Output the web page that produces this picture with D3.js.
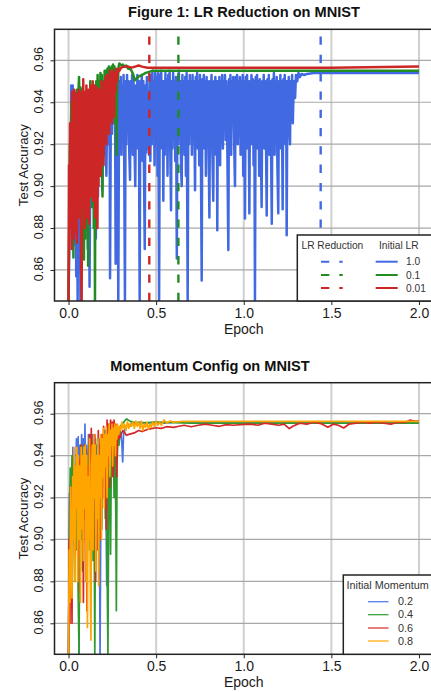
<!DOCTYPE html>
<html><head><meta charset="utf-8">
<script src="https://cdn.jsdelivr.net/npm/d3@7"></script>
<style>body{margin:0;background:#fff}svg{display:block;font-family:"Liberation Sans",Arial,sans-serif}</style>
</head><body><svg id="c" width="431" height="692"></svg>
<script>
// ---------- DATA ----------
const xTicks = [0, 0.5, 1.0, 1.5, 2.0];
const xTickLabels = ["0.0", "0.5", "1.0", "1.5", "2.0"];
const yTicks = [0.86, 0.88, 0.90, 0.92, 0.94, 0.96];
const yTickLabels = ["0.86", "0.88", "0.90", "0.92", "0.94", "0.96"];

const lrLabels = ["1.0", "0.1", "0.01"];
const lrReductionEpoch = [1.439, 0.627, 0.461];

const lr1_0 = [[0.000,0.845],[0.004,0.870],[0.008,0.905],[0.012,0.880],[0.016,0.948],[0.020,0.935],[0.024,0.948],[0.028,0.900],[0.032,0.945],[0.036,0.872],[0.040,0.930],[0.044,0.857],[0.048,0.925],[0.052,0.845],[0.056,0.940],[0.060,0.860],[0.064,0.935],[0.068,0.845],[0.072,0.942],[0.076,0.895],[0.080,0.945],[0.086,0.905],[0.092,0.940],[0.098,0.880],[0.104,0.935],[0.110,0.870],[0.116,0.930],[0.120,0.852],[0.126,0.938],[0.132,0.890],[0.138,0.944],[0.144,0.900],[0.150,0.945],[0.156,0.875],[0.162,0.940],[0.168,0.895],[0.174,0.945],[0.180,0.905],[0.186,0.946],[0.192,0.898],[0.198,0.947],[0.204,0.915],[0.210,0.948],[0.216,0.905],[0.222,0.950],[0.228,0.920],[0.234,0.950],[0.237,0.856],[0.242,0.945],[0.248,0.925],[0.254,0.952],[0.260,0.930],[0.265,0.950],[0.269,0.863],[0.274,0.948],[0.280,0.935],[0.284,0.845],[0.289,0.950],
[0.294,0.930],[0.298,0.952],[0.302,0.915],[0.306,0.948],[0.310,0.925],[0.314,0.953],[0.318,0.910],[0.322,0.845],[0.326,0.950],[0.330,0.920],[0.334,0.953],[0.338,0.928],[0.342,0.950],[0.346,0.918],[0.351,0.903],[0.355,0.950],[0.359,0.920],[0.363,0.953],[0.367,0.915],[0.371,0.951],[0.375,0.925],[0.381,0.900],[0.385,0.948],[0.389,0.918],[0.393,0.953],[0.397,0.922],[0.401,0.950],[0.406,0.845],[0.410,0.950],[0.414,0.918],[0.418,0.953],[0.423,0.912],[0.427,0.950],[0.431,0.905],[0.435,0.870],[0.439,0.948],[0.443,0.916],[0.447,0.952],[0.451,0.918],[0.455,0.945],[0.459,0.915],[0.463,0.950],[0.467,0.912],[0.471,0.953],[0.475,0.920],[0.479,0.955],[0.483,0.925],[0.487,0.950],[0.491,0.910],[0.495,0.954],[0.500,0.920],[0.504,0.952],[0.508,0.905],[0.512,0.954],[0.517,0.845],[0.521,0.953],[0.525,0.918],[0.529,0.955],[0.533,0.922],[0.537,0.950],[0.541,0.893],[0.545,0.950],[0.549,0.915],[0.553,0.954],[0.557,0.920],[0.561,0.951],[0.565,0.905],[0.569,0.953],[0.573,0.925],[0.577,0.955],[0.581,0.915],[0.585,0.8885],[0.589,0.950],[0.593,0.918],[0.597,0.954],[0.601,0.925],[0.605,0.950],[0.609,0.912],[0.613,0.952],[0.618,0.8655],[0.622,0.952],[0.626,0.920],[0.630,0.955],[0.634,0.925],[0.638,0.950],[0.642,0.910],[0.646,0.900],[0.650,0.953],[0.654,0.922],[0.658,0.950],[0.662,0.915],[0.666,0.952],[0.670,0.905],[0.674,0.954],[0.680,0.845],[0.684,0.950],[0.688,0.920],[0.692,0.953],[0.696,0.925],[0.700,0.950],[0.704,0.915],[0.708,0.953],[0.712,0.922],[0.716,0.950],[0.722,0.898],[0.726,0.952],[0.730,0.925],[0.734,0.954],[0.738,0.918],[0.742,0.950],[0.746,0.910],[0.750,0.953],[0.755,0.922],[0.760,0.855],[0.764,0.951],[0.768,0.925],[0.772,0.953],[0.776,0.918],[0.780,0.950],[0.784,0.905],[0.788,0.952],[0.792,0.928],[0.796,0.950],[0.800,0.915],[0.804,0.885],[0.808,0.950],[0.812,0.925],[0.816,0.953],[0.820,0.920],[0.826,0.893],[0.830,0.950],[0.834,0.928],[0.838,0.952],[0.842,0.915],[0.846,0.950],[0.849,0.879],[0.853,0.950],[0.857,0.928],[0.861,0.952],[0.865,0.910],[0.869,0.950],[0.873,0.930],[0.877,0.953],[0.881,0.918],[0.885,0.950],[0.889,0.932],[0.893,0.953],[0.897,0.922],[0.901,0.950],[0.905,0.930],[0.912,0.8695],[0.916,0.951],[0.920,0.928],[0.924,0.953],[0.928,0.915],[0.932,0.950],[0.936,0.932],[0.940,0.952],[0.946,0.918],[0.950,0.900],[0.954,0.952],[0.958,0.930],[0.962,0.953],[0.966,0.920],[0.970,0.950],[0.974,0.932],[0.978,0.952],[0.982,0.915],[0.986,0.950],[0.990,0.930],[0.994,0.953],[0.997,0.905],[1.002,0.950],[1.007,0.8846],[1.011,0.952],[1.015,0.928],[1.019,0.953],[1.023,0.918],[1.027,0.950],[1.032,0.887],[1.036,0.950],[1.040,0.930],[1.044,0.953],[1.048,0.920],[1.052,0.951],[1.056,0.910],[1.060,0.950],[1.064,0.845],[1.068,0.952],[1.072,0.928],[1.076,0.953],[1.080,0.918],[1.084,0.950],[1.088,0.905],[1.092,0.951],[1.096,0.930],[1.102,0.890],[1.106,0.950],[1.110,0.928],[1.114,0.953],[1.118,0.918],[1.122,0.950],[1.126,0.930],[1.131,0.886],[1.135,0.951],[1.139,0.928],[1.143,0.953],[1.147,0.915],[1.151,0.950],[1.155,0.925],[1.160,0.882],[1.164,0.951],[1.168,0.930],[1.172,0.954],[1.176,0.915],[1.180,0.950],[1.184,0.925],[1.188,0.952],[1.192,0.910],[1.197,0.887],[1.201,0.950],[1.205,0.930],[1.209,0.953],[1.213,0.918],[1.217,0.950],[1.222,0.889],[1.226,0.951],[1.230,0.932],[1.234,0.953],[1.238,0.920],[1.242,0.950],[1.245,0.8766],[1.249,0.950],[1.253,0.935],[1.257,0.952],[1.261,0.925],[1.264,0.920],[1.268,0.950],[1.272,0.938],[1.276,0.953],[1.280,0.930],[1.284,0.945],[1.288,0.950],[1.293,0.942],[1.298,0.953],[1.305,0.950],[1.312,0.954],[1.320,0.952],[1.330,0.9535],[1.345,0.953],[1.360,0.9535],[1.400,0.954],[1.500,0.954],[1.700,0.954],[1.900,0.954],[2.000,0.954]];

const lr0_1 = [[0.000,0.845],[0.004,0.880],[0.008,0.920],[0.012,0.900],[0.016,0.940],[0.020,0.905],[0.024,0.945],[0.028,0.866],[0.032,0.945],[0.036,0.925],[0.040,0.944],[0.044,0.900],[0.048,0.946],[0.052,0.915],[0.056,0.944],[0.060,0.952],[0.064,0.930],[0.068,0.947],[0.072,0.905],[0.076,0.946],[0.080,0.890],[0.084,0.944],[0.088,0.865],[0.092,0.935],[0.096,0.875],[0.100,0.945],[0.104,0.900],[0.108,0.940],[0.112,0.862],[0.116,0.945],[0.120,0.900],[0.124,0.950],[0.128,0.915],[0.132,0.946],[0.136,0.890],[0.140,0.948],[0.144,0.880],[0.148,0.930],[0.151,0.845],[0.154,0.935],[0.158,0.950],[0.162,0.920],[0.166,0.953],[0.170,0.935],[0.174,0.950],[0.178,0.910],[0.182,0.954],[0.186,0.930],[0.190,0.953],[0.194,0.895],[0.198,0.950],[0.202,0.935],[0.206,0.955],[0.210,0.940],[0.214,0.955],[0.218,0.925],[0.222,0.956],[0.226,0.945],[0.230,0.957],[0.234,0.940],[0.238,0.956],[0.242,0.950],[0.246,0.957],[0.250,0.945],[0.254,0.958],[0.258,0.950],[0.262,0.957],[0.266,0.930],[0.270,0.955],[0.274,0.915],[0.278,0.953],[0.282,0.950],[0.286,0.957],[0.290,0.9585],[0.296,0.958],[0.302,0.9575],[0.310,0.958],[0.320,0.957],[0.330,0.9575],[0.340,0.956],[0.350,0.956],[0.360,0.955],[0.370,0.953],[0.378,0.9505],[0.385,0.951],[0.395,0.952],[0.405,0.9525],[0.420,0.953],[0.440,0.954],[0.460,0.9545],[0.480,0.955],[0.550,0.955],[0.700,0.955],[1.000,0.955],[1.500,0.955],[2.000,0.955]];

const lr0_01 = [[0.000,0.845],[0.003,0.910],[0.006,0.880],[0.009,0.930],[0.012,0.892],[0.015,0.929],[0.018,0.870],[0.021,0.945],[0.024,0.885],[0.027,0.940],[0.030,0.875],[0.033,0.946],[0.036,0.890],[0.039,0.938],[0.042,0.878],[0.045,0.944],[0.048,0.873],[0.051,0.942],[0.054,0.895],[0.057,0.946],[0.060,0.885],[0.063,0.940],[0.066,0.900],[0.069,0.945],[0.072,0.860],[0.075,0.845],[0.078,0.935],[0.081,0.890],[0.084,0.951],[0.087,0.895],[0.090,0.945],[0.093,0.880],[0.096,0.942],[0.099,0.900],[0.102,0.948],[0.105,0.885],[0.108,0.940],[0.111,0.905],[0.114,0.946],[0.117,0.882],[0.120,0.944],[0.123,0.910],[0.126,0.948],[0.129,0.895],[0.132,0.940],[0.135,0.920],[0.138,0.950],[0.141,0.893],[0.144,0.945],[0.147,0.912],[0.150,0.948],[0.153,0.885],[0.156,0.944],[0.159,0.905],[0.162,0.947],[0.165,0.880],[0.168,0.942],[0.171,0.900],[0.174,0.946],[0.177,0.915],[0.180,0.945],[0.184,0.905],[0.188,0.950],[0.192,0.925],[0.196,0.945],[0.200,0.910],[0.204,0.950],[0.208,0.930],[0.212,0.952],[0.216,0.920],[0.220,0.953],[0.224,0.935],[0.228,0.950],[0.232,0.925],[0.236,0.955],[0.240,0.938],[0.244,0.953],[0.248,0.930],[0.252,0.955],[0.256,0.940],[0.260,0.933],[0.264,0.954],[0.268,0.945],[0.272,0.956],[0.276,0.950],[0.280,0.954],[0.285,0.956],[0.290,0.955],[0.300,0.9565],[0.320,0.957],[0.340,0.957],[0.360,0.9565],[0.380,0.957],[0.400,0.9575],[0.420,0.957],[0.450,0.9565],[0.600,0.9565],[1.000,0.9565],[1.500,0.9565],[1.800,0.9568],[2.000,0.957]];

const momLabels = ["0.2", "0.4", "0.6", "0.8"];

const mom0_2 = [[0.000,0.845],[0.005,0.922],[0.010,0.900],[0.015,0.930],[0.020,0.890],[0.025,0.944],[0.030,0.905],[0.035,0.935],[0.040,0.915],[0.045,0.948],[0.050,0.900],[0.055,0.949],[0.060,0.845],[0.065,0.945],[0.070,0.920],[0.075,0.950],[0.080,0.905],[0.085,0.948],[0.090,0.930],[0.094,0.955],[0.098,0.915],[0.102,0.945],[0.108,0.900],[0.114,0.950],[0.120,0.925],[0.126,0.947],[0.132,0.905],[0.138,0.950],[0.144,0.915],[0.150,0.948],[0.156,0.890],[0.162,0.945],[0.168,0.920],[0.174,0.948],[0.180,0.845],[0.186,0.940],[0.192,0.925],[0.198,0.950],[0.204,0.930],[0.210,0.952],[0.218,0.878],[0.224,0.945],[0.230,0.935],[0.236,0.953],[0.242,0.940],[0.248,0.954],[0.254,0.945],[0.260,0.952],[0.266,0.942],[0.272,0.954],[0.280,0.948],[0.290,0.953],[0.300,0.950],[0.305,0.945],[0.309,0.937],[0.314,0.950],[0.320,0.952],[0.330,0.954],[0.340,0.955],[0.350,0.954],[0.360,0.9555],[0.380,0.955],[0.400,0.956],[0.450,0.9555],[0.500,0.956],[0.550,0.9555],[0.600,0.956],[0.700,0.956],[1.000,0.956],[1.500,0.956],[2.000,0.956]];

const mom0_4 = [[0.000,0.845],[0.005,0.905],[0.010,0.934],[0.015,0.920],[0.020,0.940],[0.025,0.900],[0.030,0.938],[0.035,0.880],[0.040,0.935],[0.045,0.895],[0.050,0.930],[0.055,0.875],[0.060,0.845],[0.065,0.930],[0.070,0.900],[0.075,0.945],[0.080,0.885],[0.085,0.940],[0.090,0.910],[0.095,0.945],[0.100,0.880],[0.105,0.938],[0.110,0.905],[0.115,0.945],[0.120,0.895],[0.125,0.942],[0.130,0.915],[0.135,0.946],[0.140,0.890],[0.145,0.930],[0.150,0.845],[0.155,0.935],[0.160,0.910],[0.165,0.948],[0.170,0.900],[0.175,0.945],[0.180,0.920],[0.185,0.950],[0.190,0.905],[0.195,0.948],[0.200,0.925],[0.205,0.952],[0.210,0.910],[0.215,0.950],[0.220,0.888],[0.225,0.845],[0.230,0.930],[0.235,0.950],[0.240,0.893],[0.245,0.945],[0.250,0.930],[0.255,0.953],[0.260,0.920],[0.265,0.948],[0.270,0.910],[0.273,0.866],[0.277,0.935],[0.282,0.952],[0.288,0.945],[0.295,0.954],[0.305,0.955],[0.315,0.956],[0.325,0.957],[0.332,0.9575],[0.340,0.957],[0.350,0.9565],[0.370,0.956],[0.400,0.9555],[0.500,0.956],[0.700,0.9555],[1.000,0.9555],[1.500,0.9555],[2.000,0.9555]];

const mom0_6 = [[0.000,0.845],[0.004,0.900],[0.008,0.860],[0.012,0.925],[0.016,0.895],[0.020,0.860],[0.024,0.930],[0.028,0.910],[0.032,0.940],[0.036,0.892],[0.040,0.935],[0.045,0.915],[0.050,0.940],[0.055,0.892],[0.060,0.938],[0.065,0.875],[0.070,0.945],[0.075,0.905],[0.080,0.940],[0.085,0.870],[0.090,0.945],[0.095,0.910],[0.100,0.943],[0.105,0.866],[0.110,0.935],[0.115,0.900],[0.120,0.950],[0.125,0.920],[0.130,0.953],[0.135,0.900],[0.140,0.945],[0.145,0.925],[0.150,0.950],[0.155,0.880],[0.160,0.940],[0.165,0.895],[0.170,0.952],[0.175,0.915],[0.180,0.945],[0.185,0.900],[0.190,0.950],[0.195,0.920],[0.200,0.954],[0.205,0.935],[0.210,0.950],[0.215,0.905],[0.220,0.957],[0.225,0.935],[0.230,0.955],[0.235,0.925],[0.240,0.957],[0.245,0.940],[0.250,0.956],[0.255,0.930],[0.260,0.957],[0.265,0.945],[0.270,0.955],[0.275,0.930],[0.280,0.952],[0.290,0.948],[0.300,0.950],[0.310,0.952],[0.320,0.951],[0.330,0.9497],[0.340,0.950],[0.360,0.9505],[0.380,0.951],[0.400,0.952],[0.420,0.9515],[0.450,0.9525],[0.480,0.953],[0.500,0.9533],[0.530,0.953],[0.560,0.9538],[0.600,0.9535],[0.630,0.954],[0.660,0.9545],[0.700,0.9538],[0.740,0.9545],[0.780,0.955],[0.820,0.9545],[0.860,0.954],[0.900,0.9548],[0.940,0.9545],[1.000,0.9549],[1.040,0.955],[1.080,0.9545],[1.120,0.9555],[1.160,0.955],[1.200,0.9545],[1.230,0.955],[1.260,0.9529],[1.280,0.954],[1.320,0.9555],[1.360,0.955],[1.400,0.956],[1.440,0.9553],[1.480,0.9535],[1.510,0.955],[1.540,0.9545],[1.570,0.9532],[1.600,0.955],[1.640,0.9555],[1.680,0.956],[1.720,0.9555],[1.760,0.956],[1.800,0.9555],[1.840,0.955],[1.880,0.956],[1.920,0.9558],[1.950,0.957],[1.970,0.9565],[2.000,0.9565]];

const mom0_8 = [[0.000,0.845],[0.004,0.895],[0.008,0.870],[0.012,0.925],[0.016,0.885],[0.020,0.872],[0.024,0.930],[0.028,0.900],[0.032,0.944],[0.036,0.880],[0.040,0.935],[0.044,0.915],[0.048,0.944],[0.052,0.880],[0.056,0.940],[0.060,0.900],[0.064,0.935],[0.068,0.870],[0.072,0.944],[0.076,0.905],[0.080,0.940],[0.084,0.890],[0.088,0.944],[0.092,0.915],[0.096,0.945],[0.100,0.880],[0.104,0.940],[0.108,0.858],[0.112,0.930],[0.116,0.900],[0.120,0.948],[0.124,0.880],[0.128,0.852],[0.132,0.935],[0.136,0.945],[0.140,0.895],[0.144,0.950],[0.148,0.920],[0.152,0.945],[0.156,0.885],[0.160,0.940],[0.164,0.910],[0.168,0.948],[0.172,0.878],[0.176,0.940],[0.180,0.920],[0.184,0.950],[0.188,0.900],[0.192,0.948],[0.196,0.930],[0.200,0.953],[0.204,0.915],[0.208,0.950],[0.212,0.935],[0.216,0.954],[0.220,0.920],[0.224,0.950],[0.228,0.940],[0.232,0.955],[0.236,0.930],[0.240,0.952],[0.244,0.945],[0.248,0.955],[0.252,0.935],[0.256,0.953],[0.260,0.945],[0.264,0.955],[0.268,0.940],[0.272,0.954],[0.276,0.948],[0.280,0.955],[0.286,0.950],[0.292,0.954],[0.298,0.952],[0.305,0.956],[0.312,0.953],[0.320,0.955],[0.328,0.952],[0.336,0.956],[0.344,0.953],[0.352,0.9555],[0.360,0.954],[0.368,0.956],[0.376,0.953],[0.384,0.9565],[0.392,0.954],[0.400,0.956],[0.408,0.953],[0.416,0.9565],[0.424,0.952],[0.432,0.955],[0.440,0.9535],[0.448,0.956],[0.456,0.9525],[0.464,0.955],[0.472,0.9535],[0.480,0.956],[0.490,0.954],[0.500,0.9565],[0.510,0.9545],[0.520,0.956],[0.530,0.9545],[0.545,0.957],[0.560,0.9555],[0.580,0.9565],[0.600,0.956],[0.650,0.9563],[0.800,0.9563],[1.200,0.9563],[1.600,0.9563],[2.000,0.9563]];

// ---------- DRAW ----------
const svg = d3.select("#c");
const TXT = "#1a1a1a";
const xDomain = [-0.08, 2.08], yDomain = [0.8452, 0.9748];
const left = 54.5, right = 433;

function panel(cfg) {
  const x = d3.scaleLinear().domain(xDomain).range([left, right]);
  const y = d3.scaleLinear().domain(yDomain).range([cfg.bottom, cfg.top]);
  const g = svg.append("g");
  const cid = "clip" + cfg.id;
  svg.append("defs").append("clipPath").attr("id", cid)
    .append("rect").attr("x", left).attr("y", cfg.top).attr("width", right - left).attr("height", cfg.bottom - cfg.top);

  g.append("g").selectAll("line").data(xTicks).join("line")
    .attr("x1", d => x(d)).attr("x2", d => x(d)).attr("y1", cfg.top).attr("y2", cfg.bottom)
    .attr("stroke", "#d0d0d0").attr("stroke-width", 2);
  g.append("g").selectAll("line").data(yTicks).join("line")
    .attr("x1", left).attr("x2", right).attr("y1", d => y(d)).attr("y2", d => y(d))
    .attr("stroke", "#a8a8a8").attr("stroke-width", 1.2);

  const plot = g.append("g").attr("clip-path", `url(#${cid})`);
  const line = d3.line().x(d => x(d[0])).y(d => y(d[1]));
  cfg.series.forEach(s => {
    plot.append("path").datum(s.data).attr("d", line).attr("fill", "none")
      .attr("stroke", s.color).attr("stroke-width", cfg.lw).attr("stroke-linejoin", "round");
  });
  if (cfg.vlines) {
    cfg.vlines.forEach(v => {
      plot.append("line").attr("x1", x(v.x)).attr("x2", x(v.x))
        .attr("y1", cfg.bottom).attr("y2", cfg.top)
        .attr("stroke", v.color).attr("stroke-width", 2.4).attr("stroke-dasharray", "8.3,10");
    });
  }

  const ax = g.append("g").attr("transform", `translate(0,${cfg.bottom})`)
    .call(d3.axisBottom(x).tickValues(xTicks).tickFormat((d, i) => xTickLabels[i]).tickSize(4).tickSizeOuter(0));
  ax.select(".domain").remove();
  ax.selectAll("line").attr("stroke", "#222");
  ax.selectAll("text").attr("y", 16.5).attr("dy", 0).attr("font-size", 14).attr("fill", TXT)
    .attr("font-family", "Liberation Sans, Arial, sans-serif");

  const ay = g.append("g").attr("transform", `translate(${left},0)`)
    .call(d3.axisLeft(y).tickValues(yTicks).tickFormat((d, i) => yTickLabels[i]).tickSize(4).tickSizeOuter(0));
  ay.select(".domain").remove();
  ay.selectAll("line").attr("stroke", "#222");
  ay.selectAll("text").attr("x", 0).attr("dy", 0).attr("text-anchor", "middle")
    .attr("transform", "translate(-11.5,-1.5) rotate(-90)").attr("font-size", 12.5).attr("fill", TXT)
    .attr("font-family", "Liberation Sans, Arial, sans-serif");

  g.append("rect").attr("x", left).attr("y", cfg.top).attr("width", right - left).attr("height", cfg.bottom - cfg.top)
    .attr("fill", "none").attr("stroke", "#222").attr("stroke-width", 1.5);

  g.append("text").attr("x", (left + right) / 2).attr("y", cfg.bottom + 33).attr("text-anchor", "middle")
    .attr("font-size", 14).attr("fill", TXT).text("Epoch");
  g.append("text").attr("transform", `translate(27.5,${(cfg.top + cfg.bottom) / 2}) rotate(-90)`)
    .attr("text-anchor", "middle").attr("font-size", 13.3).attr("fill", TXT).text("Test Accuracy");
  g.append("text").attr("x", cfg.titleX).attr("y", cfg.top - 12).attr("text-anchor", "middle")
    .attr("font-size", 14.6).attr("font-weight", "bold").attr("fill", "#111").text(cfg.title);
  return {x, y, g};
}

const topColors = ["#4169E1", "#228B22", "#CD2626"];
panel({
  id: 1, top: 29.3, bottom: 301, lw: 2.5, title: "Figure 1: LR Reduction on MNIST", titleX: 244,
  series: [{data: lr1_0, color: topColors[0]}, {data: lr0_1, color: topColors[1]}, {data: lr0_01, color: topColors[2]}],
  vlines: lrReductionEpoch.map((e, i) => ({x: e, color: topColors[i]}))
});

const botColors = ["#4a74e8", "#2e9a2e", "#d62828", "#FFA500"];
panel({
  id: 2, top: 382.7, bottom: 654.3, lw: 1.7, title: "Momentum Config on MNIST", titleX: 210,
  series: [{data: mom0_2, color: botColors[0]}, {data: mom0_4, color: botColors[1]}, {data: mom0_6, color: botColors[2]}, {data: mom0_8, color: botColors[3]}]
});

{
  const g = svg.append("g");
  const lx = 297.3, ly = 235, lb = 301;
  g.append("rect").attr("x", lx).attr("y", ly).attr("width", right - lx).attr("height", lb - ly)
    .attr("fill", "#fff").attr("stroke", "#222").attr("stroke-width", 1.5);
  g.append("text").attr("x", 301.5).attr("y", 249).attr("font-size", 10.2).attr("fill", "#333").text("LR Reduction");
  g.append("text").attr("x", 379).attr("y", 249).attr("font-size", 10.2).attr("fill", "#333").text("Initial LR");
  const rows = [261.7, 275, 288];
  lrLabels.forEach((lab, i) => {
    g.append("line").attr("x1", 321).attr("x2", 342.7).attr("y1", rows[i]).attr("y2", rows[i])
      .attr("stroke", topColors[i]).attr("stroke-width", 2).attr("stroke-dasharray", "8.3,10");
    g.append("line").attr("x1", 375.7).attr("x2", 397.7).attr("y1", rows[i]).attr("y2", rows[i])
      .attr("stroke", topColors[i]).attr("stroke-width", 2);
    g.append("text").attr("x", 406).attr("y", rows[i] + 3.7).attr("font-size", 10.2).attr("fill", "#333").text(lab);
  });
}
{
  const g = svg.append("g");
  const lx = 343.3, ly = 575, lb = 654.3;
  g.append("rect").attr("x", lx).attr("y", ly).attr("width", right - lx).attr("height", lb - ly)
    .attr("fill", "#fff").attr("stroke", "#222").attr("stroke-width", 1.5);
  g.append("text").attr("x", 346.5).attr("y", 588.5).attr("font-size", 10.8).attr("fill", "#333").text("Initial Momentum");
  const rows = [601.7, 614.7, 628, 641];
  momLabels.forEach((lab, i) => {
    g.append("line").attr("x1", 368).attr("x2", 388.5).attr("y1", rows[i]).attr("y2", rows[i])
      .attr("stroke", botColors[i]).attr("stroke-width", 1.2);
    g.append("text").attr("x", 398).attr("y", rows[i] + 3.7).attr("font-size", 10.8).attr("fill", "#333").text(lab);
  });
}
</script></body></html>
